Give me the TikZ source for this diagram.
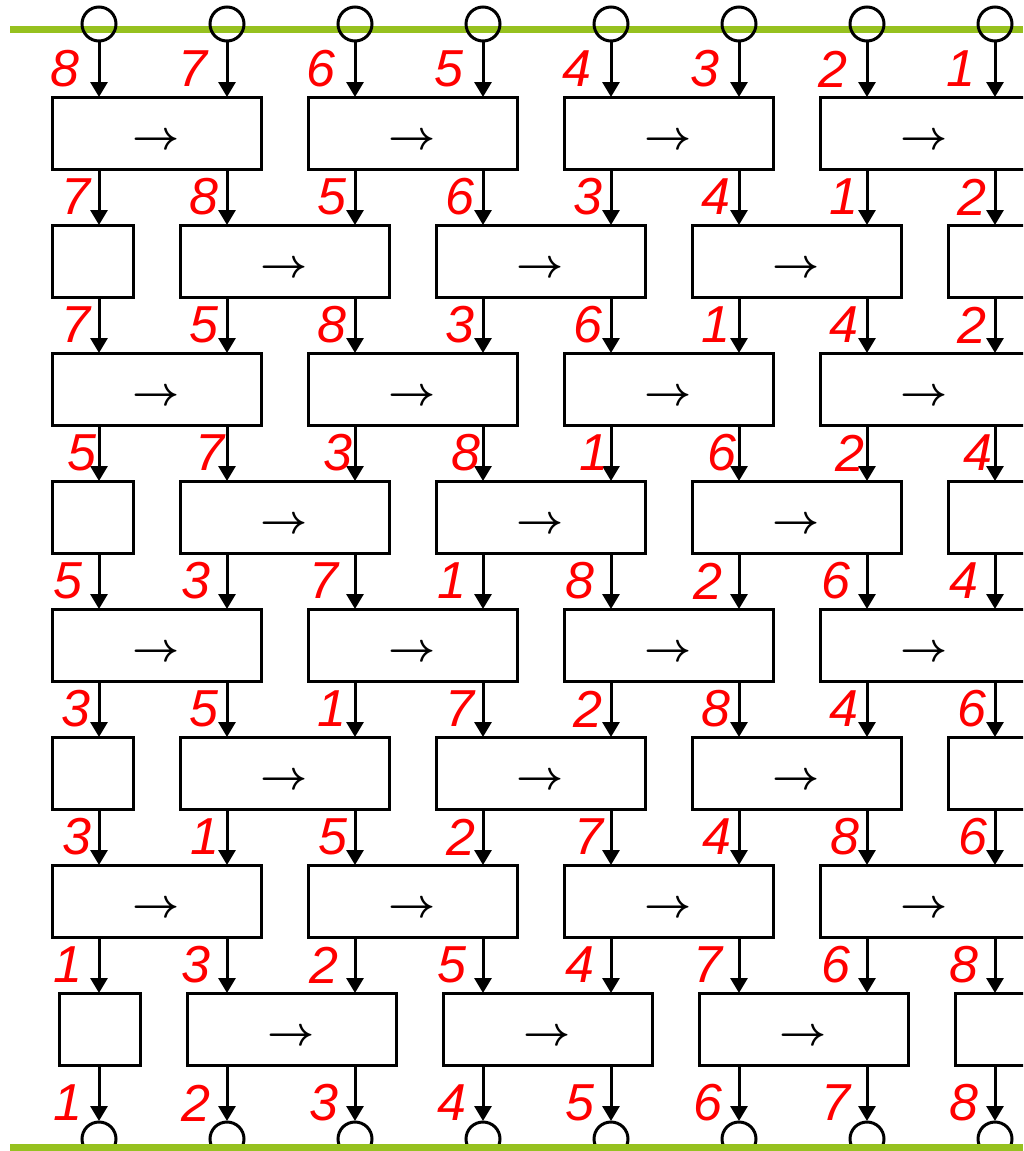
\documentclass[tikz,border=0pt]{standalone}
\usepackage{fontspec}
\setsansfont{Liberation Sans}
\usetikzlibrary{arrows.meta,positioning,calc}
\definecolor{railgreen}{RGB}{150,193,31}

\begin{document}
\begin{tikzpicture}[x=1pt, y=-1pt,
  >={Triangle[length=15pt,width=17pt]},
  wire/.style={line width=3pt, ->},
  cmp/.style={draw, line width=3pt, minimum height=72pt, inner sep=0pt},
  port/.style={circle, draw, line width=3pt, minimum size=34pt, inner sep=0pt},
  rail/.style={railgreen, line width=7pt},
  lbl/.style={text=red, font=\sffamily\itshape\fontsize{52}{52}\selectfont, anchor=east, inner sep=0pt},
  dir/.style={inner sep=0pt},
]
\clip (0,0) rectangle (1023,1151);

% input rail and ports
\draw[rail] (10,29) -- (1023,29);
\foreach \i in {1,...,8} {
  \node[port] (top-\i) at ({99+128*(\i-1)},24) {};
  \node[port] (bot-\i) at ({99+128*(\i-1)},1139) {};
}

% odd stages: pairs (1,2) (3,4) (5,6) (7,8)
\foreach \r in {1,3,5,7}
  \foreach \i in {1,3,5,7} {
    \node[cmp, minimum width=209pt] (b-\r-\i) at ({99+128*(\i-1)+57.5},{133+128*(\r-1)}) {};
    \node[dir] (d-\r-\i) at ([yshift=-8pt]b-\r-\i.center) {\scalebox{4.1}{\boldmath$\rightarrow$}};
  }

% even stages: 1 alone, pairs (2,3) (4,5) (6,7), 8 alone
\foreach \r/\dx in {2/0,4/0,6/0,8/7} {
  \node[cmp, minimum width=81pt] (b-\r-1) at ({99-6.5+\dx},{133+128*(\r-1)}) {};
  \foreach \i in {2,4,6} {
    \node[cmp, minimum width=209pt] (b-\r-\i) at ({99+128*(\i-1)+57.5+\dx},{133+128*(\r-1)}) {};
    \node[dir] (d-\r-\i) at ([yshift=-8pt]b-\r-\i.center) {\scalebox{4.1}{\boldmath$\rightarrow$}};
  }
  \node[cmp, minimum width=81pt] (b-\r-8) at ({995-6.5+\dx},{133+128*(\r-1)}) {};
}

% wires between stages
\foreach \g in {0,...,8}
  \foreach \i in {1,...,8} {
    \coordinate (s-\g-\i) at ({99+128*(\i-1)},{41+128*\g});
    \coordinate (e-\g-\i) at ({99+128*(\i-1)},{97+128*\g});
    \draw[wire] (s-\g-\i) -- (e-\g-\i);
  }

% values on the wires
\foreach \g/\off/\ly/\vals in {
    0/-19/69/{8,7,6,5,4,3,2,1},
    1/-8/197/{7,8,5,6,3,4,1,2},
    2/-8/325/{7,5,8,3,6,1,4,2},
    3/-2/453/{5,7,3,8,1,6,2,4},
    4/-16/581/{5,3,7,1,8,2,6,4},
    5/-8/709/{3,5,1,7,2,8,4,6},
    6/-7/837/{3,1,5,2,7,4,8,6},
    7/-16/965/{1,3,2,5,4,7,6,8},
    8/-16/1103/{1,2,3,4,5,6,7,8}}
  \foreach \v [count=\i] in \vals
    \node[lbl] (n-\g-\i) at ({99+128*(\i-1)+\off},\ly) {\v};

% output rail
\draw[rail] (10,1147) -- (1023,1147);
\end{tikzpicture}
\end{document}
